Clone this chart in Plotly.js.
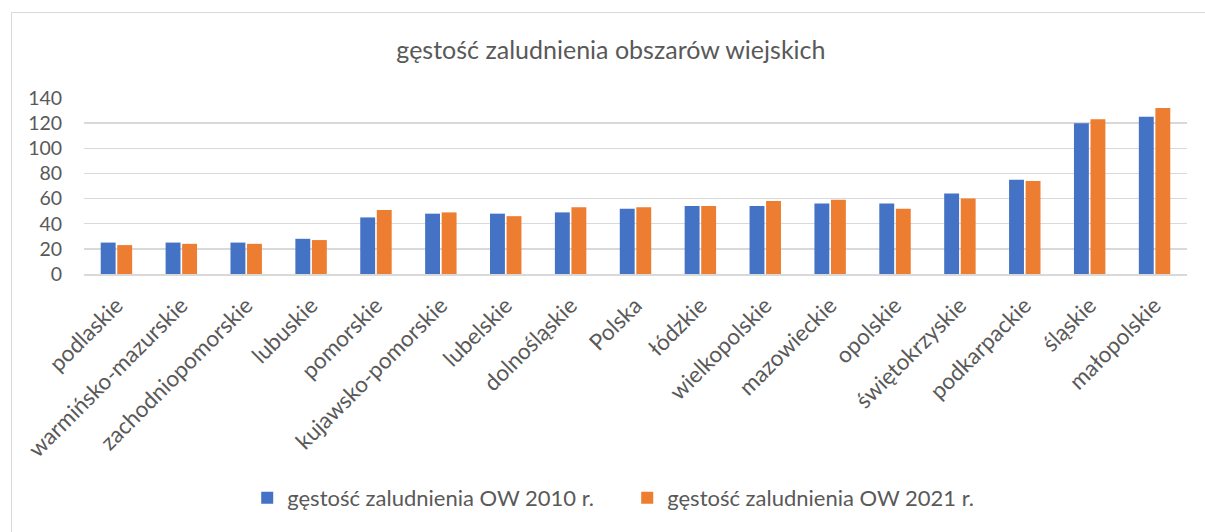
<!DOCTYPE html>
<html>
<head>
<meta charset="utf-8">
<script src="https://cdn.plot.ly/plotly-3.0.1.min.js"></script>
<style>
html,body{margin:0;padding:0;background:#fff;}
#wrap{position:relative;width:1205px;height:532px;}
#chart{width:1205px;height:532px;}
#frame{position:absolute;left:11px;top:12px;width:1200px;height:530px;border:1px solid #d9d9d9;pointer-events:none;box-sizing:border-box;}
</style>
</head>
<body>
<div id="wrap"><div id="chart"></div><div id="frame"></div></div>
<script>
const categories = ["podlaskie","warmińsko-mazurskie","zachodniopomorskie","lubuskie","pomorskie","kujawsko-pomorskie","lubelskie","dolnośląskie","Polska","łódzkie","wielkopolskie","mazowieckie","opolskie","świętokrzyskie","podkarpackie","śląskie","małopolskie"];
const density2010 = [25,25,25,28,45,48,48,49,52,54,54,56,56,64,75,120,125];
const density2021 = [23,24,24,27,51,49,46,53,53,54,58,59,52,60,74,123,132];
const seriesNames = ["gęstość zaludnienia OW 2010 r.","gęstość zaludnienia OW 2021 r."];
const chartTitle = "gęstość zaludnienia obszarów wiejskich";

const fontFam = "Lato, 'Open Sans', sans-serif";
const txt = "#595959";

const traces = [
  {type:"bar", x:categories, y:density2010, name:seriesNames[0], marker:{color:"#4472C4"}},
  {type:"bar", x:categories, y:density2021, name:seriesNames[1], marker:{color:"#ED7D31"}}
];

const layout = {
  width:1205, height:532,
  margin:{l:84, r:18, t:98, b:258},
  paper_bgcolor:"#fff", plot_bgcolor:"#fff",
  font:{family:fontFam, color:txt, size:18},
  title:{text:chartTitle, font:{family:fontFam, size:25, color:txt}, x:0.507, xref:"container", y:0.906, yref:"container", xanchor:"center", yanchor:"middle"},
  barmode:"group", bargap:0.49, bargroupgap:0.1,
  xaxis:{tickangle:-45, tickfont:{family:fontFam, size:22.5, color:txt}, showline:true, linecolor:"#d9d9d9", linewidth:1.5, ticks:"outside", ticklen:8, tickcolor:"rgba(0,0,0,0)", showgrid:false, automargin:false},
  yaxis:{range:[0,140], dtick:20, tickfont:{family:fontFam, size:19.5, color:txt}, gridcolor:"#d9d9d9", gridwidth:1.5, zeroline:false, ticks:"outside", ticklen:17, tickcolor:"rgba(0,0,0,0)", automargin:false, fixedrange:true},
  showlegend:true,
  legend:{orientation:"h", x:0.4925, xanchor:"center", y:-1.273, yanchor:"middle", font:{family:fontFam, size:22, color:txt}, entrywidth:335, entrywidthmode:"pixels", itemwidth:30, bgcolor:"rgba(0,0,0,0)"}
};

Plotly.newPlot("chart", traces, layout, {displayModeBar:false, staticPlot:true});
</script>
</body>
</html>
